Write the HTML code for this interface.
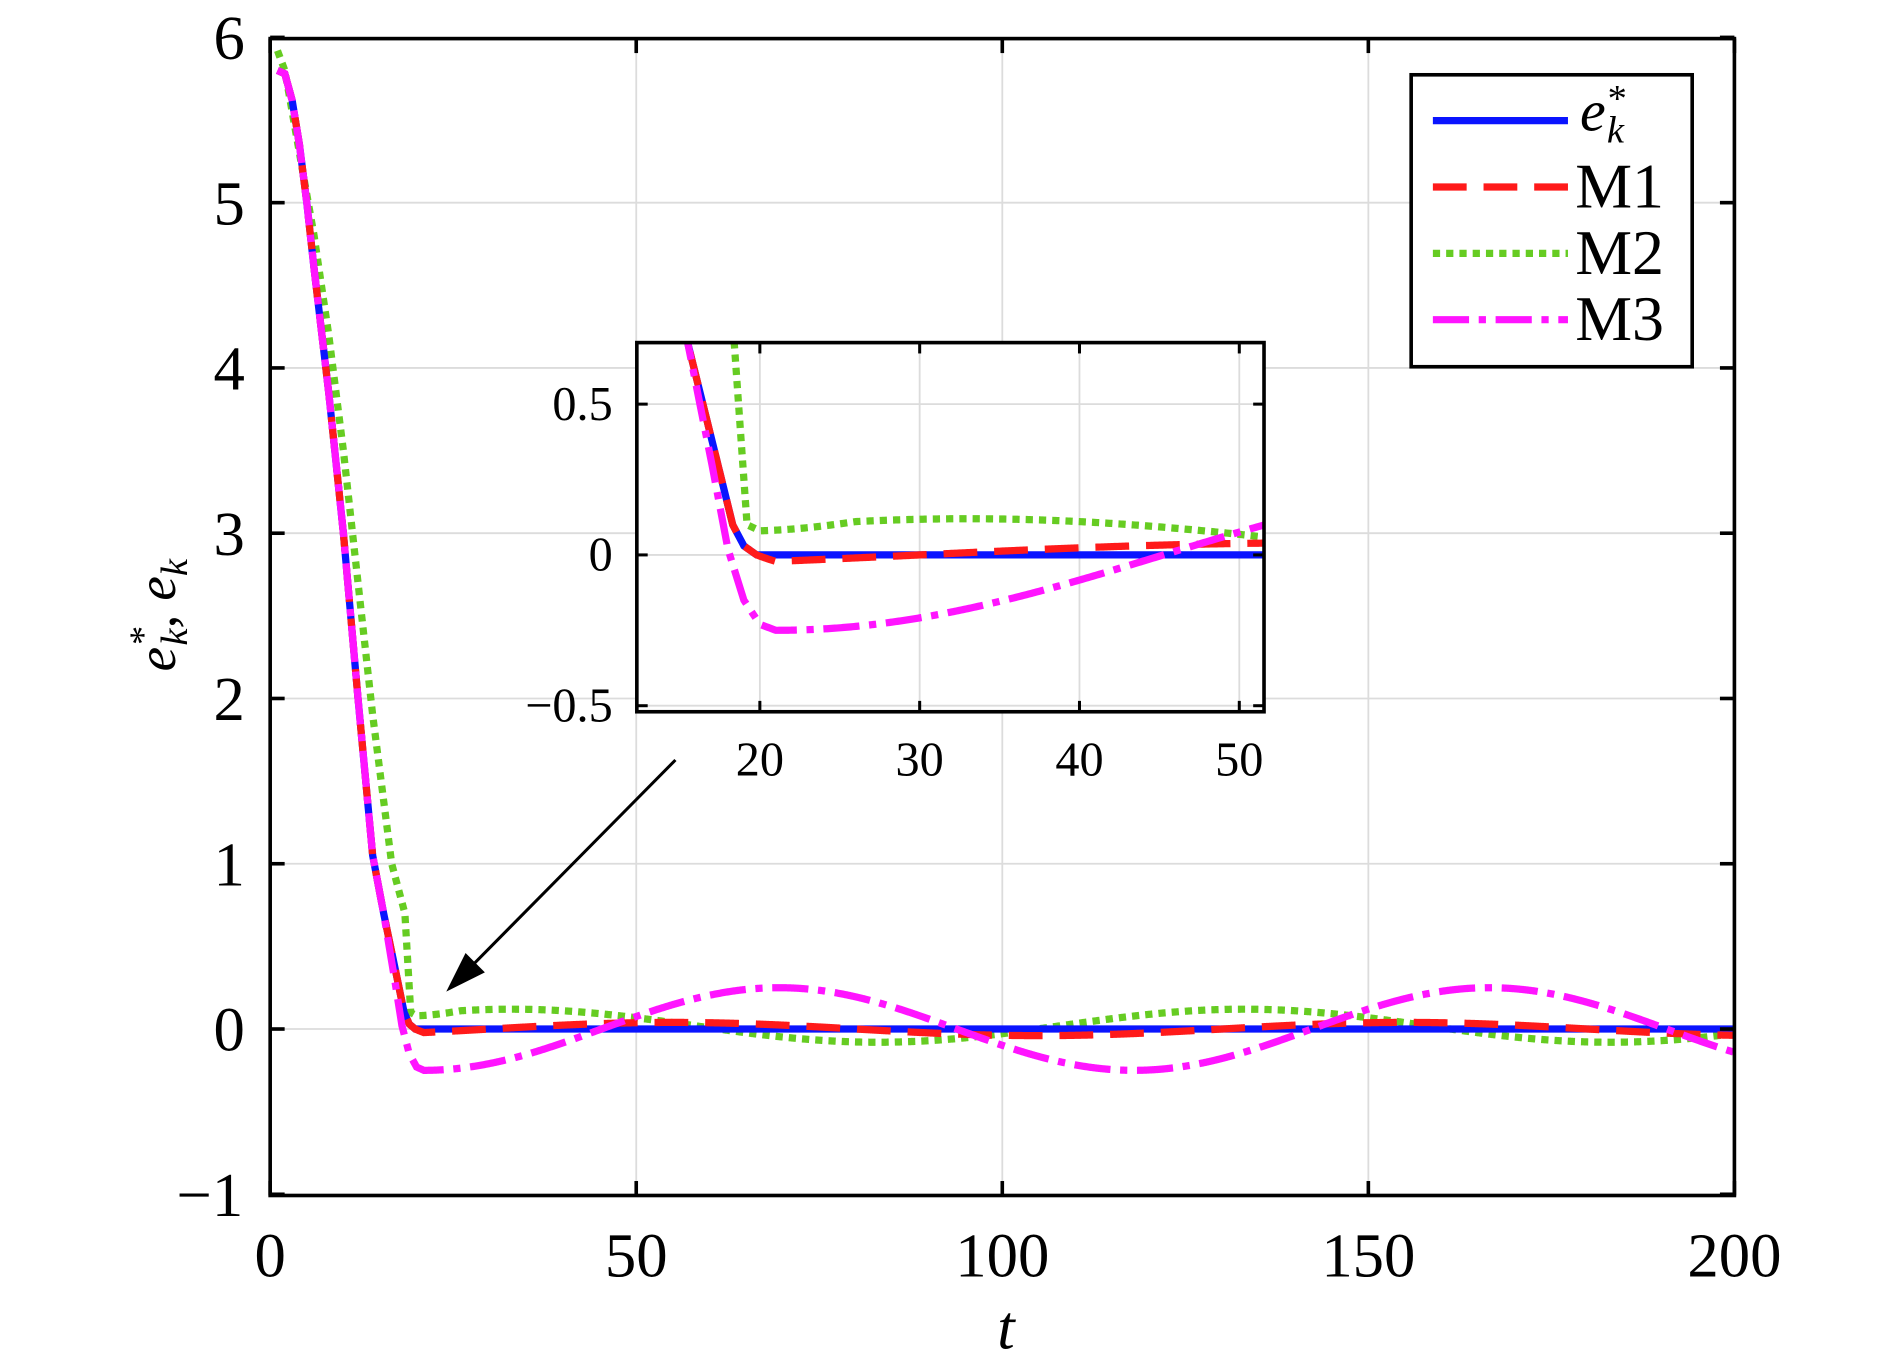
<!DOCTYPE html>
<html><head><meta charset="utf-8"><style>
html,body{margin:0;padding:0;background:#fff}
svg{display:block}
text{font-family:"Liberation Serif",serif;fill:#000}
</style></head><body>
<svg id="s" width="1890" height="1368" viewBox="0 0 1567 1134" preserveAspectRatio="none" xmlns="http://www.w3.org/2000/svg">
<defs>
<clipPath id="cm"><rect x="224" y="32" width="1214" height="959"/></clipPath>
<clipPath id="ci"><rect x="528" y="284" width="520" height="306"/></clipPath>
</defs>
<rect width="1567" height="1134" fill="#fff"/>
<g id="grid" stroke="#dcdcdc" stroke-width="1.5"></g>
<g id="main" clip-path="url(#cm)" fill="none" stroke-width="6"></g>
<rect x="224" y="32" width="1214" height="959" fill="none" stroke="#000" stroke-width="3"/>
<g id="ticks" stroke="#000" stroke-width="3"></g>
<g id="labels" font-size="52" text-anchor="middle"></g>
<text x="834" y="1118" font-size="52" font-style="italic" text-anchor="middle">t</text>
<text transform="translate(145,510) rotate(-90)" font-size="46" font-style="italic" text-anchor="middle">e<tspan font-size="32" dy="-16">*</tspan><tspan font-size="32" dx="-15" dy="26">k</tspan><tspan dy="-10">,  e</tspan><tspan font-size="32" dy="10">k</tspan></text>
<rect x="528" y="284" width="520" height="306" fill="#fff"/>
<g id="igrid" stroke="#dcdcdc" stroke-width="1.5"></g>
<g id="inset" clip-path="url(#ci)" fill="none" stroke-width="6"></g>
<rect x="528" y="284" width="520" height="306" fill="none" stroke="#000" stroke-width="3"/>
<g id="iticks" stroke="#000" stroke-width="2.5"></g>
<g id="ilabels" font-size="40"></g>
<line x1="560" y1="630" x2="380" y2="812" stroke="#000" stroke-width="2.5"/>
<polygon points="370,822 386,790 402,806" fill="#000"/>
<rect x="1170" y="62" width="233" height="242" fill="#fff" stroke="#000" stroke-width="3"/>
<line x1="1188" y1="100" x2="1300" y2="100" stroke="#0a14ff" stroke-width="6"/>
<line x1="1188" y1="155" x2="1300" y2="155" stroke="#ff1a1a" stroke-width="6" stroke-dasharray="28 14"/>
<line x1="1188" y1="210" x2="1300" y2="210" stroke="#66cc22" stroke-width="6" stroke-dasharray="6 5"/>
<line x1="1188" y1="265" x2="1300" y2="265" stroke="#ff14ff" stroke-width="6" stroke-dasharray="30 8 6 8"/>
<text x="1310" y="108" font-size="48" font-style="italic">e<tspan font-size="32" dy="-16">*</tspan><tspan font-size="32" dx="-15" dy="26">k</tspan></text>
<text x="1306" y="172" font-size="53">M1</text>
<text x="1306" y="227" font-size="53">M2</text>
<text x="1306" y="282" font-size="53">M3</text>
</svg>
<script>
var NS="http://www.w3.org/2000/svg";
function el(p,t,a,txt){var e=document.createElementNS(NS,t);for(var k in a)e.setAttribute(k,a[k]);if(txt!=null)e.textContent=txt;document.getElementById(p).appendChild(e);return e;}
function interp(pts,t){if(t<=pts[0][0])return pts[0][1];for(var i=1;i<pts.length;i++){if(t<=pts[i][0]){var a=pts[i-1],b=pts[i];return a[1]+(b[1]-a[1])*(t-a[0])/(b[0]-a[0]);}}return pts[pts.length-1][1];}
var PI=Math.PI;
var dB=[[1,5.8],[2,5.78],[3,5.62],[4,5.35],[5,5.0],[6,4.6],[8,3.85],[10,3.0],[12,2.0],[14,1.05],[15.5,0.7],[17,0.38],[18.3,0.1],[19,0.03],[19.8,0]];
function eB(t){return t<19.8?interp(dB,t):0;}
function m1(t){if(t<19.8)return interp(dB,t);var s=0.04*Math.sin(2*PI*(t-30)/100);if(t<21)return s*(t-19.8)/1.2;return s;}
var dM3=[[1,5.8],[2,5.78],[3,5.62],[4,5.35],[5,5.0],[6,4.6],[8,3.85],[10,3.0],[12,2.0],[14,1.05],[15.5,0.7],[17,0.3],[18,0.02],[19,-0.15],[20,-0.23],[21,-0.25]];
function m3(t){if(t<21)return interp(dM3,t);return -0.25*Math.cos(2*PI*(t-21)/97);}
var dM2=[[1,5.92],[2,5.8],[3,5.55],[6,4.8],[8,4.2],[10,3.5],[12,2.7],[14,1.9],[16.6,1.0],[18.4,0.7],[19.2,0.1],[20,0.08]];
function m2(t){if(t<20)return interp(dM2,t);var v=0.02+0.1*Math.cos(2*PI*(t-33)/100);if(t<26)v=0.08+(v-0.08)*(t-20)/6;return v;}
function path(f,X,Y,t0,t1){var d="";for(var t=t0;t<=t1+1e-9;t+=0.1){d+=(d?"L":"M")+X(t).toFixed(2)+","+Y(f(t)).toFixed(2);}return d;}
var MX=function(t){return 224+t*6.07},MY=function(v){return 853-v*137};
var IX=function(t){return 630+(t-20)*13.25},IY=function(v){return 460-v*250};
var series=[[m2,"#66cc22","6 5"],[eB,"#0a14ff",""],[m1,"#ff1a1a","28 14"],[m3,"#ff14ff","30 8 6 8"]];
series.forEach(function(s){
 var a={d:path(s[0],MX,MY,1,200),stroke:s[1]};if(s[2])a["stroke-dasharray"]=s[2];el("main","path",a);
 var b={d:path(s[0],IX,IY,12,52),stroke:s[1]};if(s[2])b["stroke-dasharray"]=s[2];el("inset","path",b);
});
[0,50,100,150,200].forEach(function(v){var x=MX(v);if(v>0&&v<200)el("grid","line",{x1:x,y1:32,x2:x,y2:991});
 el("ticks","line",{x1:x,y1:991,x2:x,y2:979});el("ticks","line",{x1:x,y1:32,x2:x,y2:44});
 el("labels","text",{x:x,y:1058},String(v));});
[-1,0,1,2,3,4,5,6].forEach(function(v){var y=MY(v);if(v>-1&&v<6)el("grid","line",{x1:224,y1:y,x2:1438,y2:y});
 el("ticks","line",{x1:224,y1:y,x2:236,y2:y});el("ticks","line",{x1:1438,y1:y,x2:1426,y2:y});
 el("labels","text",{x:v<0?174:190,y:y+18},v<0?"\u22121":String(v));});
[20,30,40,50].forEach(function(v){var x=IX(v);el("igrid","line",{x1:x,y1:284,x2:x,y2:590});
 el("iticks","line",{x1:x,y1:590,x2:x,y2:581});el("iticks","line",{x1:x,y1:284,x2:x,y2:293});
 el("ilabels","text",{x:x,y:643,"text-anchor":"middle"},String(v));});
[[-0.5,"\u22120.5"],[0,"0"],[0.5,"0.5"]].forEach(function(p){var y=IY(p[0]);el("igrid","line",{x1:528,y1:y,x2:1048,y2:y});
 el("iticks","line",{x1:528,y1:y,x2:537,y2:y});el("iticks","line",{x1:1048,y1:y,x2:1039,y2:y});
 el("ilabels","text",{x:508,y:y+13,"text-anchor":"end"},p[1]);});
</script>
</body></html>
